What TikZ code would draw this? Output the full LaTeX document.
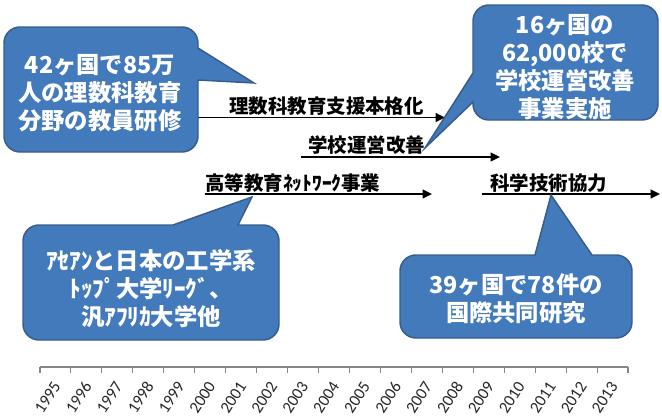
\documentclass[tikz,border=0pt]{standalone}
\usepackage{fontspec}
\newfontfamily\jp{Noto Sans CJK JP}
\newfontfamily\yr{Carlito}
\usetikzlibrary{arrows.meta}
\definecolor{cfill}{RGB}{66,122,188}
\definecolor{cborder}{RGB}{56,93,138}
\definecolor{axisgray}{RGB}{134,134,134}
\tikzset{
  callout/.style={fill=cfill, draw=cborder, line width=1.1pt},
  ctext/.style={text=white, font=\jp\bfseries\fontsize{17.5}{21}\selectfont, align=center, inner sep=0pt},
  lbl/.style={font=\jp\bfseries\fontsize{14.6}{17}\selectfont, inner sep=0pt, anchor=west},
  bar/.style={line width=1.5pt, -{Triangle[length=7pt,width=6.5pt]}},
  yearlbl/.style={font=\yr\fontsize{12.5}{15}\selectfont, text=black!85, rotate=57, anchor=east, inner sep=0pt},
}
\begin{document}
\begin{tikzpicture}[x=0.75pt,y=-0.75pt]
\useasboundingbox (0,0) rectangle (662,418);
% timeline bars
\coordinate (s1) at (198,117.5); \coordinate (e1) at (445,117.5);
\coordinate (s2) at (301,157);   \coordinate (e2) at (500,157);
\coordinate (s3) at (205,194);   \coordinate (e3) at (432,194);
\coordinate (s4) at (482,194);   \coordinate (e4) at (660,194);
\draw[bar, line width=1.3pt] (s1) -- (e1);
\draw[bar] (s2) -- (e2);
\draw[bar] (s3) -- (e3);
\draw[bar] (s4) -- (e4);
\node[lbl] (l1) at (229,106) {理数科教育支援本格化};
\node[lbl] (l2) at (308,145.5) {学校運営改善};
\node[lbl] (l3) at (205,183) {高等教育ﾈｯﾄﾜｰｸ事業};
\node[lbl] (l4) at (490,183) {科学技術協力};
% callout A
\path[callout] (20,27) -- (182,27) arc[start angle=270,end angle=360,radius=16]
  -- (198,48) -- (254,83) -- (198,80) -- (198,136) arc[start angle=0,end angle=90,radius=16]
  -- (20,152) arc[start angle=90,end angle=180,radius=16]
  -- (4,43) arc[start angle=180,end angle=270,radius=16] -- cycle;
% callout B
\path[callout] (489,5) -- (642,5) arc[start angle=270,end angle=360,radius=16]
  -- (658,104) arc[start angle=0,end angle=90,radius=16]
  -- (489,120) arc[start angle=90,end angle=180,radius=16]
  -- (473,102) -- (425,148) -- (473,73)
  -- (473,21) arc[start angle=180,end angle=270,radius=16] -- cycle;
% callout C
\path[callout] (39,225) -- (173,225) -- (252,197) -- (238,225)
  -- (263,225) arc[start angle=270,end angle=360,radius=16]
  -- (279,324) arc[start angle=0,end angle=90,radius=16]
  -- (39,340) arc[start angle=90,end angle=180,radius=16]
  -- (23,241) arc[start angle=180,end angle=270,radius=16] -- cycle;
% callout D
\path[callout] (416,255) -- (535,255) -- (551,195) -- (592,255)
  -- (616,255) arc[start angle=270,end angle=360,radius=16]
  -- (632,322) arc[start angle=0,end angle=90,radius=16]
  -- (416,338) arc[start angle=90,end angle=180,radius=16]
  -- (400,271) arc[start angle=180,end angle=270,radius=16] -- cycle;
\node[ctext] (ta) at (100,93.5) {42ヶ国で85万\\人の理数科教育\\分野の教員研修};
\node[ctext] (tb) at (565,67.5) {16ヶ国の\\62,000校で\\学校運営改善\\事業実施};
\node[ctext] (tc) at (151,288.5) {ｱｾｱﾝと日本の工学系\\ﾄｯﾌﾟ大学ﾘｰｸﾞ、\\汎ｱﾌﾘｶ大学他};
\node[ctext] (td) at (516,299) {39ヶ国で78件の\\国際共同研究};
% axis
\coordinate (a0) at (40,367); \coordinate (a1) at (628,367);
\draw[axisgray, line width=0.8pt] (a0) -- (a1);
\foreach \i in {0,...,19} {
  \draw[axisgray, line width=0.8pt] (40+\i*30.947,367) -- (40+\i*30.947,372.5);
}
\foreach \i in {0,...,18} {
  \pgfmathtruncatemacro{\yy}{1995+\i}
  \node[yearlbl] (y\i) at (57+\i*30.947,383) {\yy};
}
\end{tikzpicture}
\end{document}
